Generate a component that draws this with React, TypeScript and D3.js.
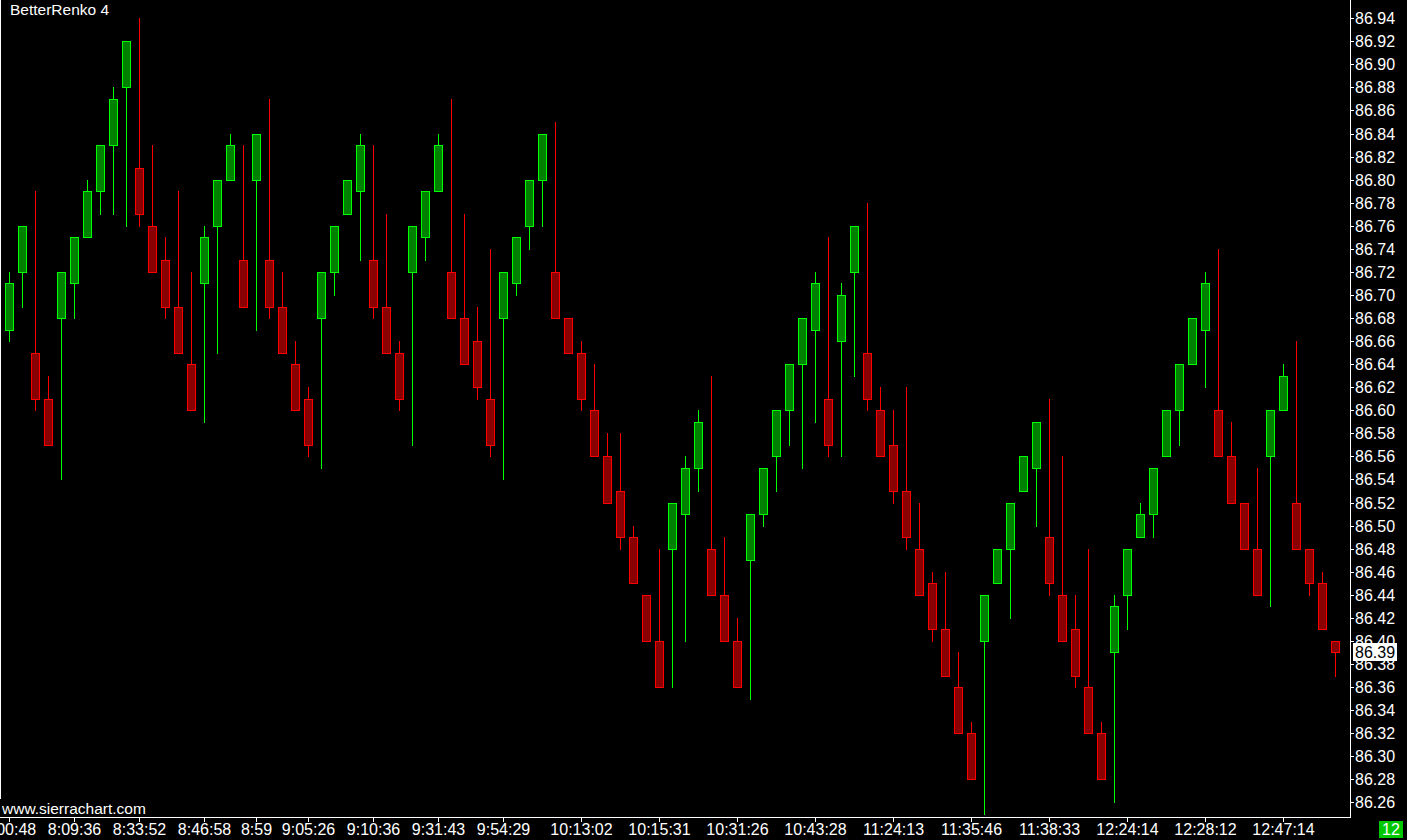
import React, { useEffect } from 'react';
import * as d3 from 'd3';

// renko bricks, one entry per brick
const opens = [
  86.67, 86.72, 86.65, 86.61, 86.68, 86.71, 86.75, 86.79, 86.83, 86.88,
  86.81, 86.76, 86.73, 86.69, 86.64, 86.71, 86.76, 86.80, 86.73, 86.80,
  86.73, 86.69, 86.64, 86.61, 86.68, 86.72, 86.77, 86.79, 86.73, 86.69,
  86.65, 86.72, 86.75, 86.79, 86.72, 86.68, 86.66, 86.61, 86.68, 86.71,
  86.76, 86.80, 86.72, 86.68, 86.65, 86.60, 86.56, 86.53, 86.49, 86.44,
  86.40, 86.48, 86.51, 86.55, 86.48, 86.44, 86.40, 86.47, 86.51, 86.56,
  86.60, 86.64, 86.67, 86.61, 86.66, 86.72, 86.65, 86.60, 86.57, 86.53,
  86.48, 86.45, 86.41, 86.36, 86.32, 86.40, 86.45, 86.48, 86.53, 86.55,
  86.49, 86.44, 86.41, 86.36, 86.32, 86.39, 86.44, 86.49, 86.51, 86.56,
  86.60, 86.64, 86.67, 86.60, 86.56, 86.52, 86.48, 86.56, 86.60, 86.52,
  86.48, 86.45, 86.40,
];
const closes = [
  86.71, 86.76, 86.61, 86.57, 86.72, 86.75, 86.79, 86.83, 86.87, 86.92,
  86.77, 86.72, 86.69, 86.65, 86.60, 86.75, 86.80, 86.83, 86.69, 86.84,
  86.69, 86.65, 86.60, 86.57, 86.72, 86.76, 86.80, 86.83, 86.69, 86.65,
  86.61, 86.76, 86.79, 86.83, 86.68, 86.64, 86.62, 86.57, 86.72, 86.75,
  86.80, 86.84, 86.68, 86.65, 86.61, 86.56, 86.52, 86.49, 86.45, 86.40,
  86.36, 86.52, 86.55, 86.59, 86.44, 86.40, 86.36, 86.51, 86.55, 86.60,
  86.64, 86.68, 86.71, 86.57, 86.70, 86.76, 86.61, 86.56, 86.53, 86.49,
  86.44, 86.41, 86.37, 86.32, 86.28, 86.44, 86.48, 86.52, 86.56, 86.59,
  86.45, 86.40, 86.37, 86.32, 86.28, 86.43, 86.48, 86.51, 86.55, 86.60,
  86.64, 86.68, 86.71, 86.56, 86.52, 86.48, 86.44, 86.60, 86.63, 86.48,
  86.45, 86.41, 86.39,
];
const highs = [
  86.72, 86.76, 86.79, 86.63, 86.72, 86.75, 86.80, 86.83, 86.88, 86.92,
  86.94, 86.83, 86.75, 86.79, 86.72, 86.76, 86.80, 86.84, 86.83, 86.84,
  86.87, 86.72, 86.66, 86.62, 86.72, 86.76, 86.80, 86.84, 86.83, 86.77,
  86.66, 86.76, 86.79, 86.84, 86.87, 86.77, 86.69, 86.74, 86.72, 86.75,
  86.80, 86.84, 86.85, 86.68, 86.66, 86.64, 86.58, 86.58, 86.50, 86.44,
  86.48, 86.52, 86.56, 86.60, 86.63, 86.49, 86.42, 86.51, 86.55, 86.60,
  86.64, 86.68, 86.72, 86.75, 86.71, 86.76, 86.78, 86.62, 86.60, 86.62,
  86.52, 86.46, 86.46, 86.39, 86.33, 86.44, 86.48, 86.52, 86.56, 86.59,
  86.61, 86.56, 86.44, 86.48, 86.33, 86.44, 86.48, 86.52, 86.55, 86.60,
  86.64, 86.68, 86.72, 86.74, 86.59, 86.52, 86.55, 86.60, 86.64, 86.66,
  86.48, 86.46, 86.40,
];
const lows = [
  86.66, 86.69, 86.60, 86.57, 86.54, 86.68, 86.75, 86.77, 86.77, 86.76,
  86.76, 86.72, 86.68, 86.65, 86.60, 86.59, 86.65, 86.80, 86.69, 86.67,
  86.68, 86.65, 86.60, 86.56, 86.55, 86.70, 86.77, 86.73, 86.68, 86.65,
  86.60, 86.57, 86.73, 86.79, 86.68, 86.64, 86.61, 86.56, 86.54, 86.70,
  86.74, 86.76, 86.68, 86.65, 86.60, 86.56, 86.52, 86.48, 86.45, 86.40,
  86.36, 86.36, 86.40, 86.53, 86.44, 86.40, 86.36, 86.35, 86.50, 86.53,
  86.57, 86.55, 86.59, 86.56, 86.56, 86.63, 86.60, 86.56, 86.52, 86.48,
  86.44, 86.40, 86.37, 86.32, 86.28, 86.25, 86.45, 86.42, 86.53, 86.50,
  86.44, 86.40, 86.36, 86.32, 86.28, 86.26, 86.41, 86.49, 86.49, 86.56,
  86.57, 86.64, 86.62, 86.56, 86.52, 86.48, 86.44, 86.43, 86.60, 86.48,
  86.44, 86.41, 86.37,
];

// time labels on the bottom axis and the brick they sit under
const timeLabels = [
  '8:00:48', '8:09:36', '8:33:52', '8:46:58', '8:59', '9:05:26', '9:10:36',
  '9:31:43', '9:54:29', '10:13:02', '10:15:31', '10:31:26', '10:43:28',
  '11:24:13', '11:35:46', '11:38:33', '12:24:14', '12:28:12', '12:47:14',
];
const timeLabelBars = [0, 5, 10, 15, 19, 23, 28, 33, 38, 44, 50, 56, 62, 68, 74, 80, 86, 92, 98];

const priceTicks = d3.range(0, 35).map(k => +(86.26 + k * 0.02).toFixed(2));
const lastPrice = 86.39;
const title = 'BetterRenko 4';
const footer = 'www.sierrachart.com';
const counter = '12';

const W = 1407;
const H = 840;
const plotRight = 1350;
const plotBottom = 817;
const font = '"Liberation Sans", Arial, sans-serif';

const App: React.FC = () => {
  useEffect(() => {
    document.body.style.margin = '0';
    document.body.style.background = '#000';
  }, []);

  const x = d3.scaleLinear().domain([0, opens.length - 1]).range([9, 9 + 13 * (opens.length - 1)]);
  const y = d3.scaleLinear().domain([86.94, 86.26]).range([18.25, 18.25 + 34 * 23.062]);

  const bars = opens.map((o, i) => ({ o, c: closes[i], h: highs[i], l: lows[i] }));

  return (
    <svg width={W} height={H} style={{ display: 'block', background: '#000' }} fontFamily={font}>
      <rect x={0} y={0} width={W} height={H} fill="#000" />

      {bars.map((b, i) => {
        const cx = Math.round(x(i));
        const up = b.c >= b.o;
        const top = Math.round(y(Math.max(b.o, b.c)));
        const bot = Math.round(y(Math.min(b.o, b.c)));
        const line = up ? '#00ff00' : '#ff0000';
        const fill = up ? '#008000' : '#880000';
        return (
          <g key={i}>
            <line x1={cx + 0.5} x2={cx + 0.5} y1={Math.round(y(b.h))} y2={Math.round(y(b.l)) + 1} stroke={line} strokeWidth={1} />
            <rect x={cx - 3.5} y={top + 0.5} width={8} height={Math.max(bot - top, 1)} fill={fill} stroke={line} strokeWidth={1} />
          </g>
        );
      })}

      {/* frame */}
      <line x1={0.5} x2={0.5} y1={0} y2={799} stroke="#fff" />
      <line x1={plotRight + 0.5} x2={plotRight + 0.5} y1={0} y2={plotBottom + 1} stroke="#fff" />
      <line x1={0} x2={plotRight + 1} y1={plotBottom + 0.5} y2={plotBottom + 0.5} stroke="#fff" />

      {/* price axis */}
      {priceTicks.map(p => {
        const ty = Math.round(y(p));
        return (
          <g key={p}>
            <line x1={plotRight} x2={plotRight + 4} y1={ty + 0.5} y2={ty + 0.5} stroke="#fff" />
            <text x={plotRight + 5} y={ty} dy="0.36em" fontSize={16} fill="#fff">{p.toFixed(2)}</text>
          </g>
        );
      })}
      <rect x={1353} y={Math.round(y(lastPrice)) - 9} width={44} height={18} fill="#fff" />
      <text x={1355} y={Math.round(y(lastPrice))} dy="0.36em" fontSize={16} fill="#000">{lastPrice.toFixed(2)}</text>

      {/* time axis */}
      {timeLabels.map((t, k) => {
        const tx = Math.round(x(timeLabelBars[k]));
        return (
          <g key={t}>
            <line x1={tx + 0.5} x2={tx + 0.5} y1={plotBottom} y2={plotBottom + 5} stroke="#fff" />
            <text x={tx + 0.5} y={835} textAnchor="middle" fontSize={16} fill="#fff">{t}</text>
          </g>
        );
      })}

      <text x={10} y={15} fontSize={15.5} fill="#fff">{title}</text>
      <text x={2} y={814} fontSize={15.5} fill="#fff">{footer}</text>

      <rect x={1379} y={821} width={24} height={17} fill="#00c800" />
      <text x={1391} y={835} textAnchor="middle" fontSize={16} fill="#fff">{counter}</text>
    </svg>
  );
};

export default App;
